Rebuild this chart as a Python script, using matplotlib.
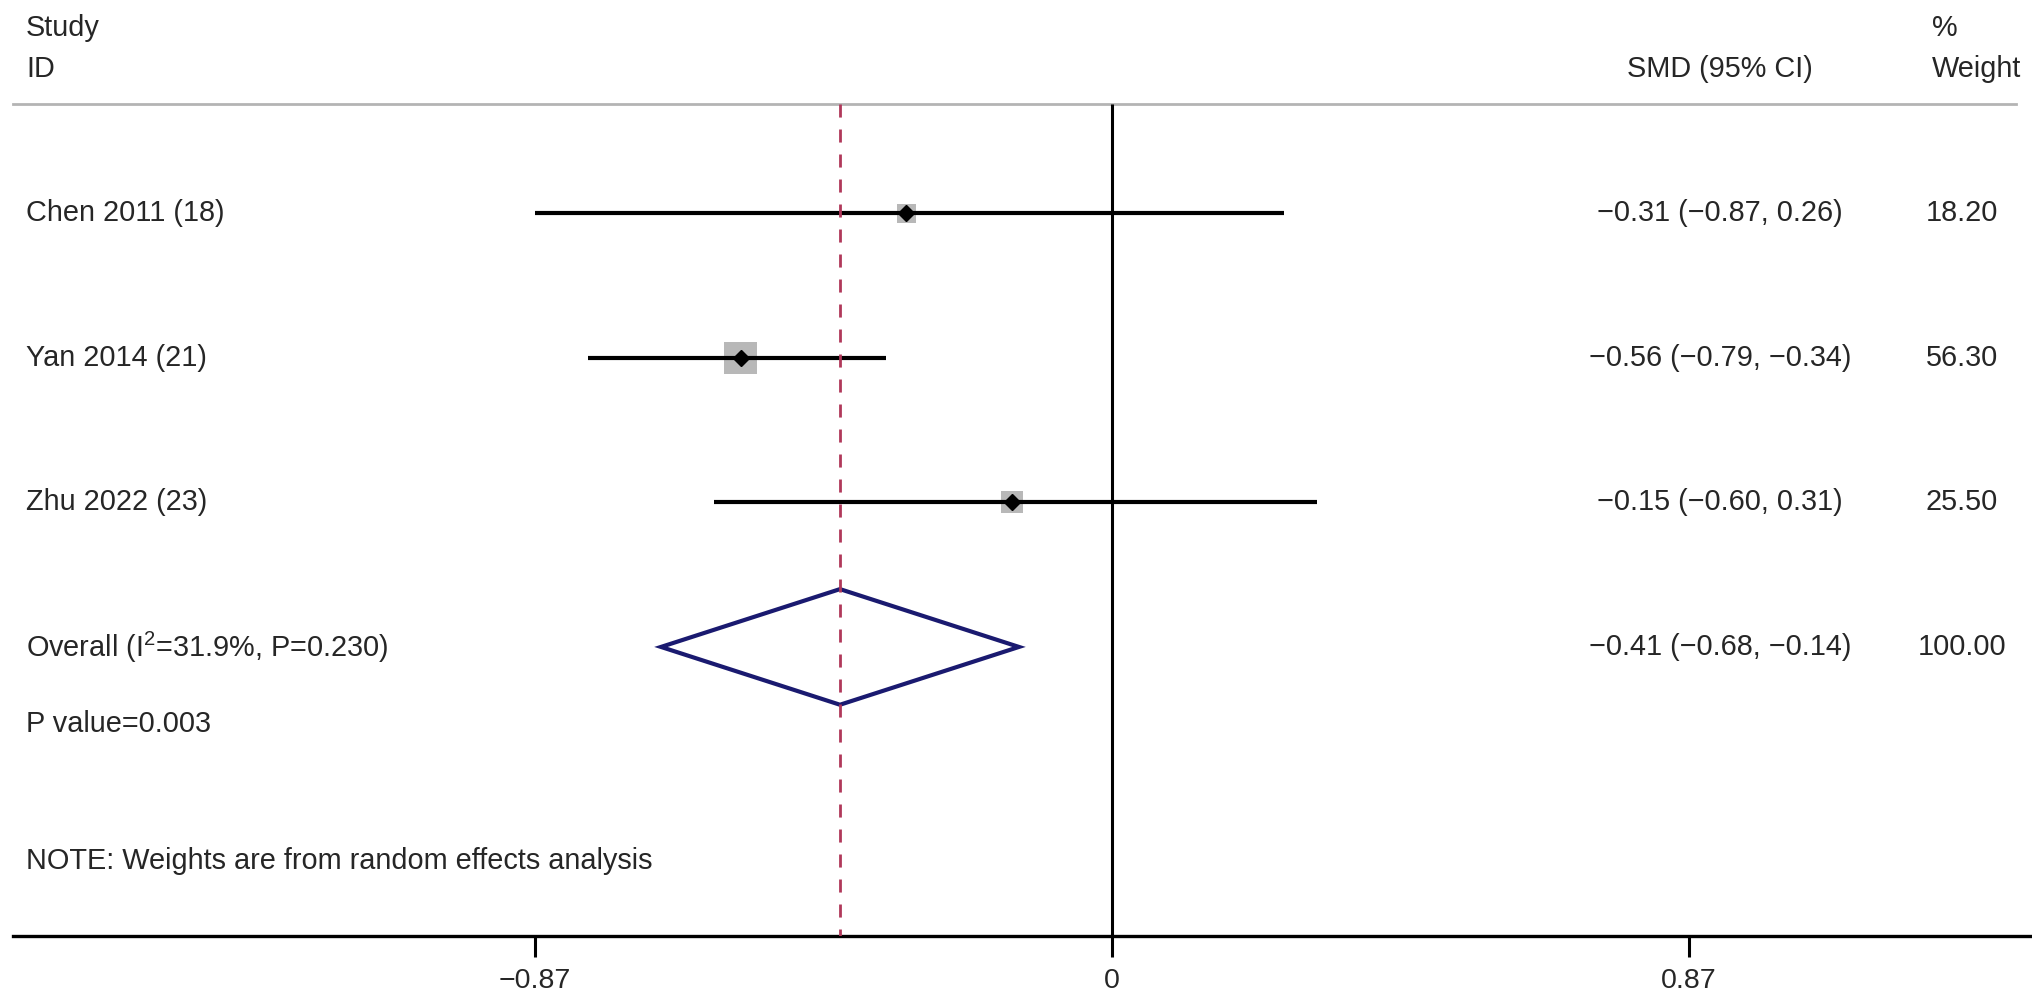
import matplotlib
matplotlib.use("Agg")
import matplotlib.pyplot as plt
import numpy as np

# forest plot data
studies = ["Chen 2011 (18)", "Yan 2014 (21)", "Zhu 2022 (23)"]
smd = [-0.31, -0.56, -0.15]
ci_lo = [-0.87, -0.79, -0.60]
ci_hi = [0.26, -0.34, 0.31]
weights = [18.20, 56.30, 25.50]

overall_smd = -0.41
overall_lo = -0.68
overall_hi = -0.14
overall_weight = 100.00
i2 = 31.9
p_het = 0.230
p_value = 0.003

xticks = [-0.87, 0, 0.87]
xtick_labels = ["\u22120.87", "0", "0.87"]


def fmt(v):
    return f"{v:.2f}".replace("-", "\u2212")


plt.rcParams["font.family"] = ["Liberation Sans", "DejaVu Sans"]
plt.rcParams["mathtext.default"] = "regular"

FS = 20.8
TXT = "#262626"

fig = plt.figure(figsize=(20.32, 10.07), dpi=100)
ax = fig.add_axes([0, 71 / 1007, 1, 1 - 71 / 1007])
ax.set_xlim(-1.677, 1.388)
ax.set_ylim(6.0, -0.476)

for s in ["top", "left", "right"]:
    ax.spines[s].set_visible(False)
ax.spines["bottom"].set_linewidth(2.4)
ax.spines["bottom"].set_bounds(-1.657, 1.388)
ax.set_yticks([])
ax.set_xticks(xticks, labels=xtick_labels)
ax.tick_params(axis="x", length=15, width=2.2, pad=8, labelsize=20.5, labelcolor=TXT)

tr = ax.get_yaxis_transform()
rows = np.arange(1, len(studies) + 1)

# header
ax.text(0.0128, -0.28, "Study", transform=tr, fontsize=FS, color=TXT, va="center")
ax.text(0.0128, 0.0, "ID", transform=tr, fontsize=FS, color=TXT, va="center")
ax.text(0.8465, 0.0, "SMD (95% CI)", transform=tr, fontsize=FS, color=TXT,
        va="center", ha="center")
ax.text(0.9508, -0.28, "%", transform=tr, fontsize=FS, color=TXT, va="center")
ax.text(0.9508, 0.0, "Weight", transform=tr, fontsize=FS, color=TXT, va="center")
ax.axhline(0.245, xmin=0.0064, xmax=0.992, color="#b4b4b4", lw=2)

# reference lines
ax.vlines(0, 0.245, 6.0, color="black", lw=2.2, zorder=2)
ax.vlines(overall_smd, 0.245, 6.0, color="#b0385a", lw=2.0,
          linestyles=(0, (4.7, 4.3)), zorder=6)

# studies
ax.hlines(rows, ci_lo, ci_hi, color="black", lw=3.0, zorder=3)
ax.scatter(smd, rows, s=np.array(weights) * 9.8, marker="s", color="#b8b8b8",
           zorder=2.5, linewidths=0)
ax.plot(smd, rows, "D", color="black", ms=8.5, zorder=4, ls="none")

for r, name, m, lo, hi, w in zip(rows, studies, smd, ci_lo, ci_hi, weights):
    ax.text(0.0128, r, name, transform=tr, fontsize=FS, color=TXT, va="center")
    ax.text(0.8465, r, f"{fmt(m)} ({fmt(lo)}, {fmt(hi)})", transform=tr,
            fontsize=FS, color=TXT, va="center", ha="center")
    ax.text(0.9656, r, f"{w:.2f}", transform=tr, fontsize=FS, color=TXT,
            va="center", ha="center")

# overall diamond
r_ov = len(studies) + 1
h = 0.4
ax.fill([overall_lo, overall_smd, overall_hi, overall_smd],
        [r_ov, r_ov - h, r_ov, r_ov + h],
        facecolor="white", edgecolor="#1a1a70", lw=3.0, zorder=5)
ax.text(0.0128, r_ov, f"Overall (I$^{{2}}$={i2:.1f}%, P={p_het:.3f})",
        transform=tr, fontsize=FS, color=TXT, va="center")
ax.text(0.8465, r_ov, f"{fmt(overall_smd)} ({fmt(overall_lo)}, {fmt(overall_hi)})",
        transform=tr, fontsize=FS, color=TXT, va="center", ha="center")
ax.text(0.9656, r_ov, f"{overall_weight:.2f}", transform=tr, fontsize=FS,
        color=TXT, va="center", ha="center")

ax.text(0.0128, r_ov + 0.53, f"P value={p_value:.3f}", transform=tr,
        fontsize=FS, color=TXT, va="center")
ax.text(0.0128, r_ov + 1.48, "NOTE: Weights are from random effects analysis",
        transform=tr, fontsize=FS, color=TXT, va="center")

fig.savefig("out.png", dpi=100)
